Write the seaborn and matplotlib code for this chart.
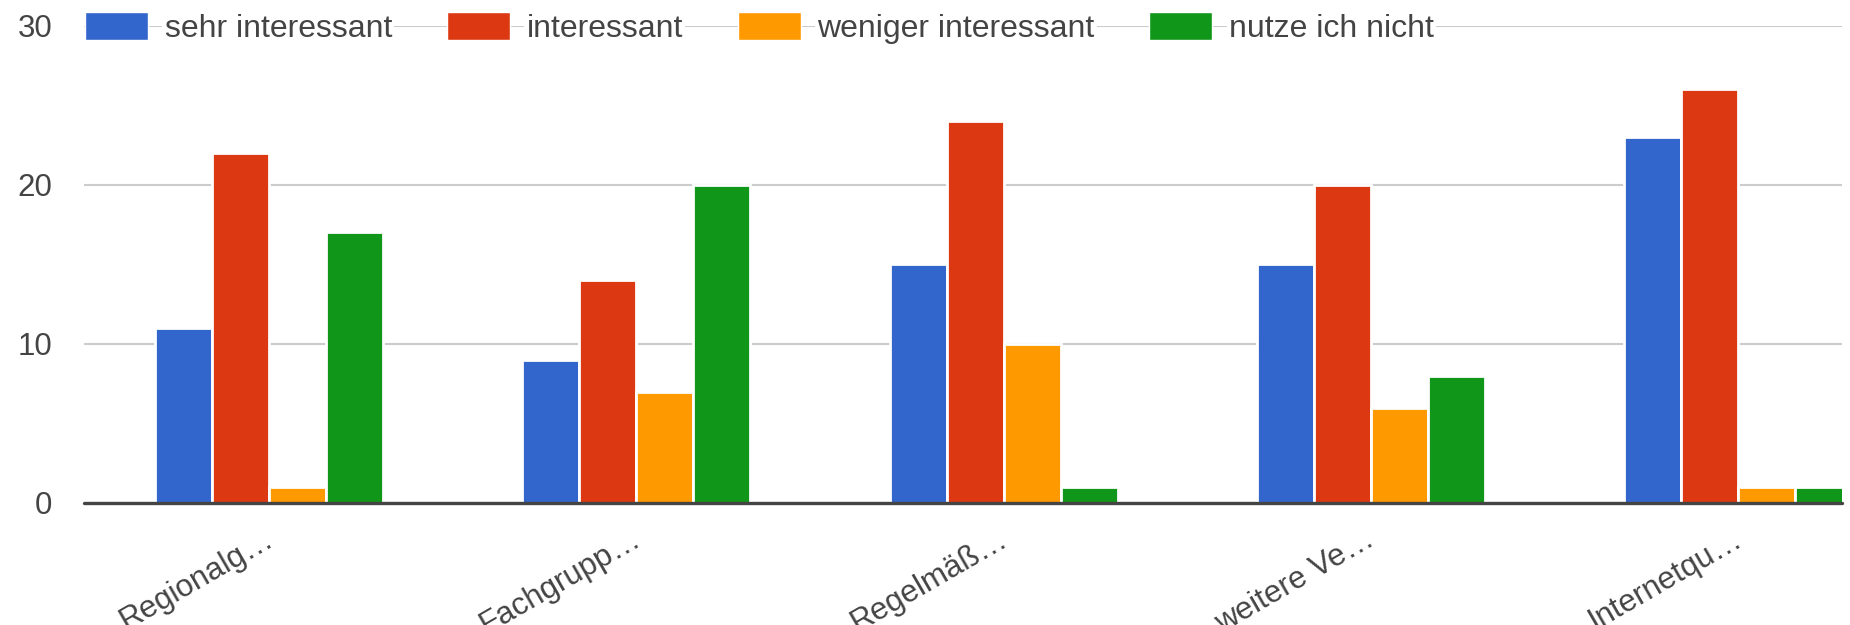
import matplotlib
matplotlib.use("Agg")
import matplotlib.pyplot as plt
import matplotlib.transforms as mtransforms
import seaborn as sns
import pandas as pd

# Survey categories (labels are truncated as in the dashboard export)
categories = ["Regionalg…", "Fachgrupp…", "Regelmäß…", "weitere Ve…", "Internetqu…"]
ratings = ["sehr interessant", "interessant", "weniger interessant", "nutze ich nicht"]

sehr_interessant = [11, 9, 15, 15, 23]
interessant = [22, 14, 24, 20, 26]
weniger_interessant = [1, 7, 10, 6, 1]
nutze_ich_nicht = [17, 20, 1, 8, 1]

y_ticks = [0, 10, 20, 30]
colors = ["#3366CC", "#DC3912", "#FF9900", "#109618"]

series = [sehr_interessant, interessant, weniger_interessant, nutze_ich_nicht]
rows = []
for rating, values in zip(ratings, series):
    for cat, v in zip(categories, values):
        rows.append({"Kategorie": cat, "Bewertung": rating, "Anzahl": v})
df = pd.DataFrame(rows)

sns.set_theme(style="white")
plt.rcParams["font.family"] = ["Liberation Sans", "DejaVu Sans"]

W, H = 1850, 625
fig = plt.figure(figsize=(W / 100, H / 100), dpi=100)
ax = fig.add_axes([84 / W, 1 - 503 / H, (1842 - 84) / W, (503 - 25.5) / H])

sns.barplot(
    data=df, x="Kategorie", y="Anzahl", hue="Bewertung",
    order=categories, hue_order=ratings, palette=colors,
    saturation=1, width=0.621, edgecolor="white", linewidth=2.0,
    ax=ax,
)

ax.set_xlim(-0.504, 4.283)
ax.set_ylim(0, 30)
ax.set_yticks(y_ticks)
ax.set_xlabel("")
ax.set_ylabel("")

for s in ax.spines.values():
    s.set_visible(False)

ax.set_axisbelow(True)
ax.yaxis.grid(True, color="#CCCCCC", linewidth=1.5)
ax.xaxis.grid(False)
ax.axhline(0, color="#444444", linewidth=2.4, zorder=5, clip_on=False)

text_color = "#444444"
ax.tick_params(axis="y", length=0, pad=23, labelsize=22.5, labelcolor=text_color)
ax.tick_params(axis="x", length=0, pad=15, labelsize=22.5, labelcolor=text_color)
shift = mtransforms.ScaledTranslation(-6 / 100, 0, fig.dpi_scale_trans)
for lbl in ax.get_xticklabels():
    lbl.set_rotation(30)
    lbl.set_ha("right")
    lbl.set_va("top")
    lbl.set_rotation_mode("anchor")
    lbl.set_transform(lbl.get_transform() + shift)

sns.move_legend(
    ax, "center left",
    bbox_to_anchor=(85 / W, 1 - 28 / H), bbox_transform=fig.transFigure,
    ncol=4, frameon=False, title=None, fontsize=23,
    handlelength=1.97, handleheight=0.95, handletextpad=0.52,
    columnspacing=1.72, borderpad=0, borderaxespad=0,
)
leg = ax.get_legend()
for t in leg.get_texts():
    t.set_color(text_color)
    t.set_bbox(dict(facecolor="white", edgecolor="none", pad=1.5))
for h in leg.legend_handles:
    h.set_edgecolor("white")
    h.set_linewidth(1.0)

fig.savefig("out.png", dpi=100, facecolor="white")
